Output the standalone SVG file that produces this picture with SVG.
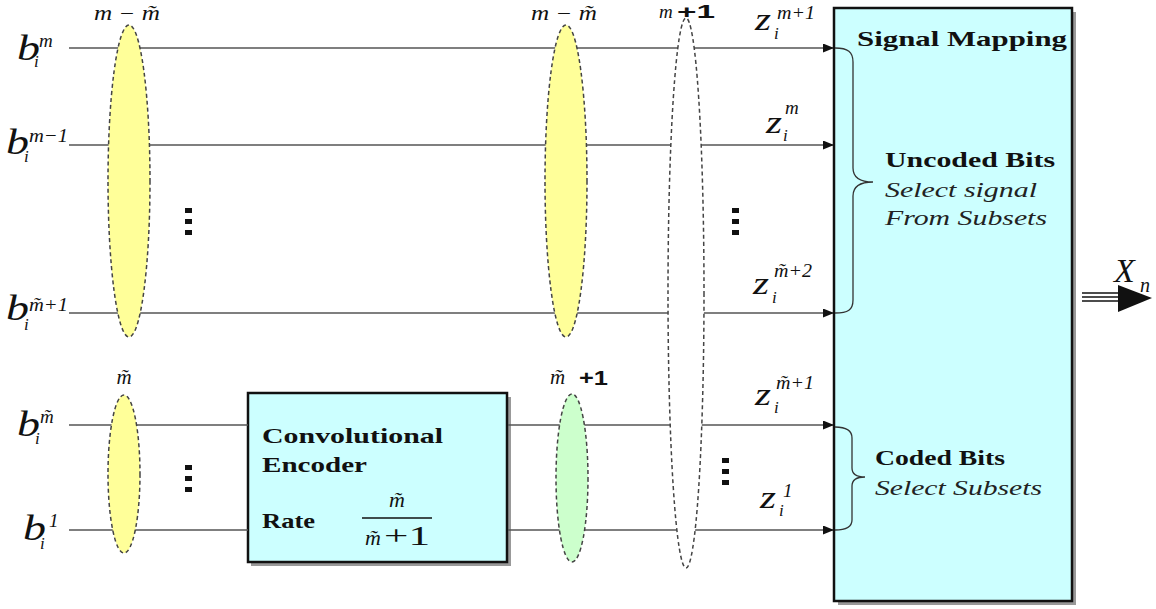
<svg xmlns="http://www.w3.org/2000/svg" width="1156" height="609" viewBox="0 0 1156 609">
<defs>
<style>
.ln{stroke:#555;stroke-width:1.6;fill:none}
.el{stroke:#444;stroke-width:1.5;stroke-dasharray:4 3}
.shadow{fill:#999}
.box{fill:#ccffff;stroke:#111;stroke-width:2.5}
.mi{font-family:"Liberation Serif","DejaVu Serif",serif;font-style:italic;fill:#111}
.bb{font-size:36px}
.zz{font-size:32px}
.sup{font-family:"Liberation Serif","DejaVu Serif",serif;font-style:italic;font-size:19px;fill:#111}
.sub{font-family:"Liberation Serif","DejaVu Serif",serif;font-style:italic;font-size:17px;fill:#111}
.bold{font-family:"Liberation Serif","DejaVu Serif",serif;font-weight:bold;fill:#111}
.ital{font-family:"Liberation Serif","DejaVu Serif",serif;font-style:italic;fill:#222}
.plus{font-family:"Liberation Sans","DejaVu Sans",sans-serif;font-weight:bold;fill:#111}
.dot{fill:#111}
.brace{fill:none;stroke:#333;stroke-width:1.3}
</style>
<marker id="arr" markerUnits="userSpaceOnUse" markerWidth="11" markerHeight="9" refX="10" refY="4.5" orient="auto">
<path d="M0,0 L11,4.5 L0,9 z" fill="#111"/>
</marker>
</defs>

<g id="encoder">
<rect class="shadow" x="251" y="397" width="260" height="169"/>
<rect class="box" x="248" y="393" width="259" height="169"/>
<text class="bold" x="262" y="443" font-size="22" textLength="181" lengthAdjust="spacingAndGlyphs">Convolutional</text>
<text class="bold" x="262" y="472" font-size="22" textLength="105" lengthAdjust="spacingAndGlyphs">Encoder</text>
<text class="bold" x="262" y="528" font-size="22" textLength="53" lengthAdjust="spacingAndGlyphs">Rate</text>
<text class="mi" x="397" y="507" font-size="22" text-anchor="middle">m&#x303;</text>
<line x1="362" y1="518" x2="432" y2="518" stroke="#111" stroke-width="1.3"/>
<text class="mi" x="365" y="545" font-size="22">m&#x303;</text>
<text x="384" y="545" font-family="Liberation Serif, serif" font-size="28" fill="#111" textLength="46" lengthAdjust="spacingAndGlyphs">+1</text>
</g>

<g id="mapper">
<rect class="shadow" x="838" y="12" width="238" height="593"/>
<rect class="box" x="834" y="8" width="238" height="593"/>
<text class="bold" x="857" y="46" font-size="21" textLength="210" lengthAdjust="spacingAndGlyphs">Signal Mapping</text>
<text class="bold" x="885" y="167" font-size="20" textLength="170" lengthAdjust="spacingAndGlyphs">Uncoded Bits</text>
<text class="ital" x="885" y="197" font-size="20" textLength="152" lengthAdjust="spacingAndGlyphs">Select signal</text>
<text class="ital" x="885" y="225" font-size="20" textLength="162" lengthAdjust="spacingAndGlyphs">From Subsets</text>
<text class="bold" x="875" y="465" font-size="20" textLength="130" lengthAdjust="spacingAndGlyphs">Coded Bits</text>
<text class="ital" x="875" y="495" font-size="20" textLength="167" lengthAdjust="spacingAndGlyphs">Select Subsets</text>
<path class="brace" d="M835,48 C848,48 853,52 853,62 L853,168 C853,178 860,182 873,182 C860,182 853,186 853,196 L853,300 C853,310 848,313 835,313"/>
<path class="brace" d="M835,427 C846,427 852,430 852,438 L852,468 C852,474 857,477 865,477 C857,477 852,480 852,486 L852,520 C852,527 846,530 835,530"/>
</g>

<g id="connectors">
<line class="ln" x1="69" y1="48" x2="833" y2="48" marker-end="url(#arr)"/>
<line class="ln" x1="69" y1="145" x2="833" y2="145" marker-end="url(#arr)"/>
<line class="ln" x1="69" y1="313" x2="833" y2="313" marker-end="url(#arr)"/>
<line class="ln" x1="69" y1="425" x2="248" y2="425"/>
<line class="ln" x1="69" y1="530" x2="248" y2="530"/>
<line class="ln" x1="508" y1="425" x2="833" y2="425" marker-end="url(#arr)"/>
<line class="ln" x1="508" y1="530" x2="833" y2="530" marker-end="url(#arr)"/>
<g id="output">
<line x1="1082" y1="293" x2="1122" y2="293" stroke="#111" stroke-width="1.6"/>
<line x1="1082" y1="297" x2="1122" y2="297" stroke="#111" stroke-width="1.6"/>
<line x1="1082" y1="301" x2="1122" y2="301" stroke="#111" stroke-width="1.6"/>
<polygon points="1118,285 1152,298 1118,312" fill="#111"/>
</g>
</g>

<g id="group1">
<ellipse class="el" cx="129" cy="181" rx="21" ry="156" fill="#ffff99"/>
<text class="mi" x="94" y="20" font-size="20" textLength="66" lengthAdjust="spacingAndGlyphs">m − m&#x303;</text>
</g>
<g id="group2">
<ellipse class="el" cx="566" cy="181" rx="21" ry="156" fill="#ffff99"/>
<text class="mi" x="531" y="20" font-size="20" textLength="66" lengthAdjust="spacingAndGlyphs">m − m&#x303;</text>
</g>
<g id="group3">
<ellipse class="el" cx="124" cy="474" rx="16" ry="79" fill="#ffff99"/>
<text class="mi" x="124" y="384" font-size="21" text-anchor="middle">m&#x303;</text>
</g>
<g id="group4">
<ellipse class="el" cx="572" cy="478" rx="16" ry="84" fill="#ccffcc"/>
<text class="mi" x="550" y="384" font-size="21">m&#x303;</text>
<text class="plus" x="579" y="385" font-size="21" textLength="29" lengthAdjust="spacingAndGlyphs">+1</text>
</g>
<g id="group5">
<ellipse class="el" cx="686" cy="293" rx="18" ry="275" fill="#ffffff"/>
<text class="mi" x="659" y="18" font-size="19">m</text>
<text class="plus" x="677" y="18" font-size="19" textLength="38" lengthAdjust="spacingAndGlyphs">+1</text>
</g>

<g id="inputs">
<g id="b_m"><text class="mi bb" x="17" y="60" textLength="23" lengthAdjust="spacingAndGlyphs">b</text><text class="sup" x="39" y="47">m</text><text class="sub" x="34" y="67">i</text></g>
<g id="b_m1"><text class="mi bb" x="6" y="154" textLength="23" lengthAdjust="spacingAndGlyphs">b</text><text class="sup" x="29" y="142" textLength="39" lengthAdjust="spacingAndGlyphs">m−1</text><text class="sub" x="24" y="162">i</text></g>
<g id="b_mt1"><text class="mi bb" x="6" y="320" textLength="23" lengthAdjust="spacingAndGlyphs">b</text><text class="sup" x="29" y="311" textLength="39" lengthAdjust="spacingAndGlyphs">m&#x303;+1</text><text class="sub" x="24" y="330">i</text></g>
<g id="b_mt"><text class="mi bb" x="17" y="436" textLength="23" lengthAdjust="spacingAndGlyphs">b</text><text class="sup" x="40" y="423">m&#x303;</text><text class="sub" x="35" y="444">i</text></g>
<g id="b_1"><text class="mi bb" x="23" y="540" textLength="23" lengthAdjust="spacingAndGlyphs">b</text><text class="sup" x="49" y="527" font-style="normal">1</text><text class="sub" x="40" y="549">i</text></g>
</g>

<g id="outputs">
<g id="z_m1"><text class="mi zz" x="755" y="30" textLength="16" lengthAdjust="spacingAndGlyphs">z</text><text class="sup" x="777" y="19" textLength="38" lengthAdjust="spacingAndGlyphs">m+1</text><text class="sub" x="774" y="39">i</text></g>
<g id="z_m"><text class="mi zz" x="766" y="133" textLength="16" lengthAdjust="spacingAndGlyphs">z</text><text class="sup" x="785" y="114">m</text><text class="sub" x="783" y="141">i</text></g>
<g id="z_mt2"><text class="mi zz" x="753" y="294" textLength="16" lengthAdjust="spacingAndGlyphs">z</text><text class="sup" x="774" y="277" textLength="38" lengthAdjust="spacingAndGlyphs">m&#x303;+2</text><text class="sub" x="772" y="303">i</text></g>
<g id="z_mt1"><text class="mi zz" x="755" y="405" textLength="16" lengthAdjust="spacingAndGlyphs">z</text><text class="sup" x="776" y="389" textLength="38" lengthAdjust="spacingAndGlyphs">m&#x303;+1</text><text class="sub" x="774" y="413">i</text></g>
<g id="z_1"><text class="mi zz" x="760" y="508" textLength="16" lengthAdjust="spacingAndGlyphs">z</text><text class="sup" x="783" y="497" font-style="normal">1</text><text class="sub" x="779" y="516">i</text></g>
<g id="x_n"><text class="mi" x="1114" y="282" font-size="34">X</text><text class="mi" x="1140" y="292" style="font-size:20px">n</text></g>
</g>

<g id="dots">
<rect class="dot" x="185" y="208" width="7" height="5"/><rect class="dot" x="185" y="219" width="7" height="5"/><rect class="dot" x="185" y="230" width="7" height="5"/>
<rect class="dot" x="732" y="208" width="7" height="5"/><rect class="dot" x="732" y="219" width="7" height="5"/><rect class="dot" x="732" y="230" width="7" height="5"/>
<rect class="dot" x="185" y="465" width="7" height="5"/><rect class="dot" x="185" y="476" width="7" height="5"/><rect class="dot" x="185" y="487" width="7" height="5"/>
<rect class="dot" x="722" y="458" width="7" height="5"/><rect class="dot" x="722" y="469" width="7" height="5"/><rect class="dot" x="722" y="480" width="7" height="5"/>
</g>
</svg>
